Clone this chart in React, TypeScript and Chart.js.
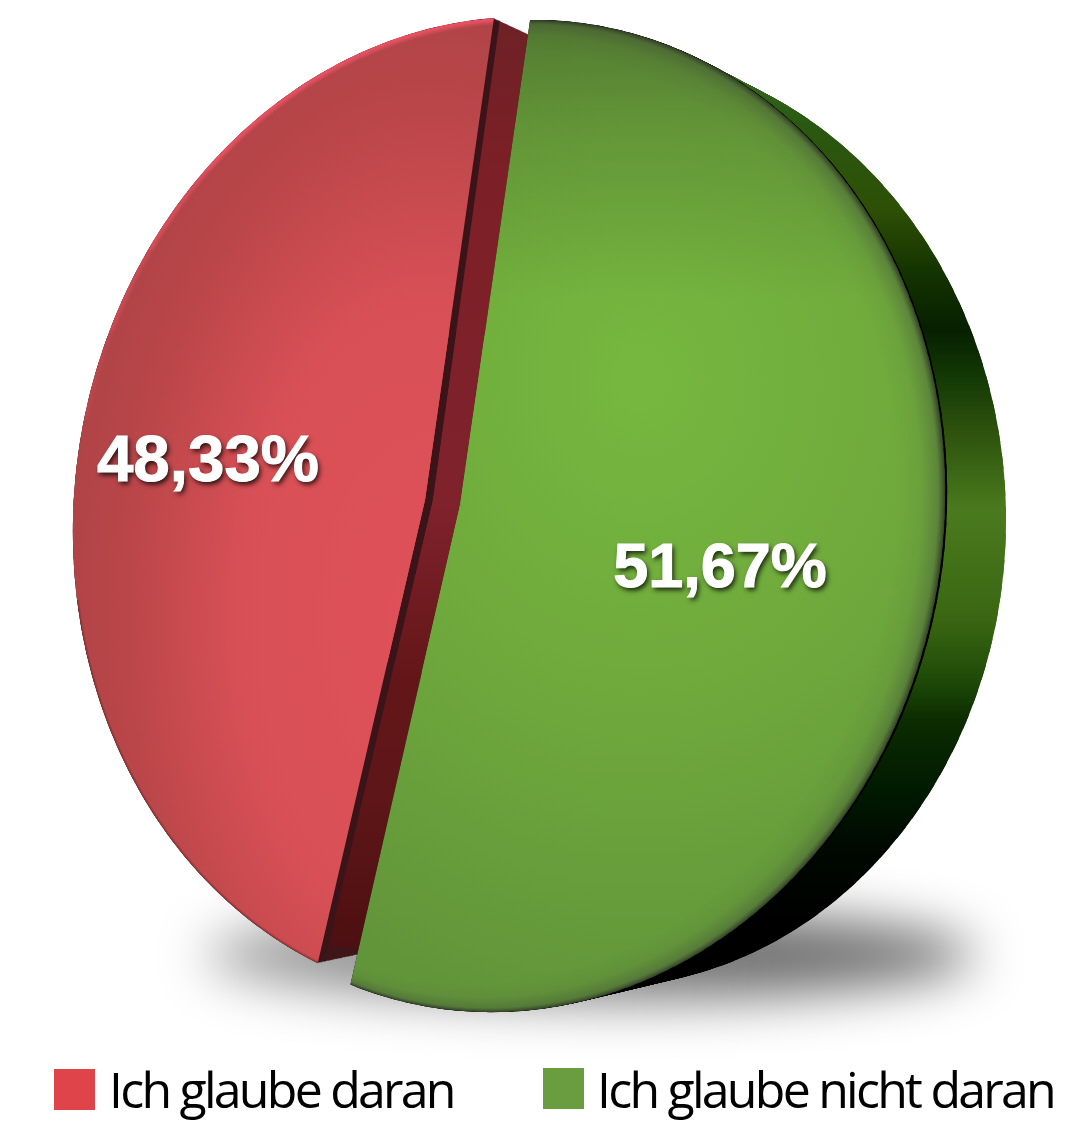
import React, { useEffect, useRef } from "react";
import { Chart, registerables } from "chart.js";

Chart.register(...registerables);

const categories = ["Ich glaube daran", "Ich glaube nicht daran"];
const shares = [48.33, 51.67];
const legendColors = ["#df444b", "#6a9c40"];

type Pt = { x: number; y: number };
type Oval = { cx: number; cy: number; ux: number; uy: number; vx: number; vy: number };
type Face = { apex: Pt; oval: Oval; from: Pt; to: Pt };

const redFront: Face = {
  apex: { x: 425, y: 500 },
  oval: { cx: 505, cy: 510, ux: 432, uy: -10, vx: -10, vy: 493 },
  from: { x: 317, y: 965 },
  to: { x: 494, y: 21 },
};
const redBack: Face = {
  apex: { x: 470, y: 505 },
  oval: { cx: 530, cy: 512, ux: 410, uy: -10, vx: -10, vy: 478 },
  from: { x: 362, y: 945 },
  to: { x: 529, y: 40 },
};
const greenFront: Face = {
  apex: { x: 460, y: 505 },
  oval: { cx: 512, cy: 516, ux: 433, uy: -11, vx: -11, vy: 496 },
  from: { x: 530, y: 22 },
  to: { x: 352, y: 980 },
};
const greenBack: Face = {
  apex: { x: 560, y: 520 },
  oval: { cx: 600, cy: 520, ux: 406, uy: 0, vx: 0, vy: 467 },
  from: { x: 620, y: 60 },
  to: { x: 460, y: 960 },
};

const greenDepthBands: [number, string][] = [
  [60, "#3a6e20"],
  [125, "#2a5812"],
  [210, "#2e4f06"],
  [270, "#143400"],
  [330, "#062000"],
  [380, "#143a06"],
  [425, "#2b4f0c"],
  [510, "#4a7a1e"],
  [620, "#3a6612"],
  [680, "#1e4a08"],
  [720, "#0c2c00"],
  [790, "#001a00"],
  [850, "#000800"],
  [920, "#000000"],
  [1020, "#000000"],
];

const redDepthBands: [number, string][] = [
  [20, "#6e2226"],
  [170, "#7c1f26"],
  [500, "#80222c"],
  [680, "#631618"],
  [800, "#5e1618"],
  [930, "#4f1012"],
  [946, "#4d1012"],
  [949, "#3e1518"],
  [980, "#3e1518"],
];

const angleOn = (o: Oval, p: Pt) => {
  const det = o.ux * o.vy - o.uy * o.vx;
  const dx = p.x - o.cx;
  const dy = p.y - o.cy;
  const a = (dx * o.vy - dy * o.vx) / det;
  const b = (dy * o.ux - dx * o.uy) / det;
  let t = Math.atan2(b, a);
  if (t < 0) t += Math.PI * 2;
  return t;
};

function rimPoint(face: Face, s: number): Pt {
  const o = face.oval;
  const a0 = angleOn(o, face.from);
  let a1 = angleOn(o, face.to);
  if (a1 < a0) a1 += Math.PI * 2;
  const t = a0 + (a1 - a0) * s;
  return {
    x: o.cx + Math.cos(t) * o.ux + Math.sin(t) * o.vx,
    y: o.cy + Math.cos(t) * o.uy + Math.sin(t) * o.vy,
  };
}

// Draws the chart's arc element as a fan of thin sectors, each placed on the tilted disc.
function stampArc(off: CanvasRenderingContext2D, arc: any, a: Face, b: Face, k: number, fine: number) {
  const R = arc.outerRadius;
  const start = arc.startAngle;
  const end = arc.endAngle;
  const circ = arc.circumference;
  const saved = arc.options;
  arc.options = {
    borderWidth: 0,
    borderColor: "transparent",
    borderAlign: "center",
    borderJoinStyle: "round",
    borderDash: [],
    borderDashOffset: 0,
    borderRadius: 0,
    spacing: 0,
    offset: 0,
    circular: true,
    selfJoin: false,
    backgroundColor: "#000",
  };
  const mix = (p: Pt, q: Pt): Pt => ({ x: p.x + (q.x - p.x) * k, y: p.y + (q.y - p.y) * k });
  const apex = mix(a.apex, b.apex);
  // second pass: a coarse, short fan that fills the hub where the thin sectors meet
  const passes: [number, number][] = [
    [fine, 1],
    [10, 0.35],
  ];
  passes.forEach(([pieces, reach]) => {
    const d = (end - start) / pieces;
    arc.outerRadius = R * reach;
    for (let i = 0; i < pieces; i++) {
      const s1 = i / pieces;
      const s2 = (i + 1) / pieces;
      const p1 = mix(rimPoint(a, s1), rimPoint(b, s1));
      const p2 = mix(rimPoint(a, s2), rimPoint(b, s2));
      const t1 = start + d * i;
      const t2 = start + d * (i + 1);
      const ax = R * Math.cos(t1);
      const ay = R * Math.sin(t1);
      const bx = R * Math.cos(t2);
      const by = R * Math.sin(t2);
      const det = ax * by - ay * bx;
      const qx = p1.x - apex.x;
      const qy = p1.y - apex.y;
      const rx = p2.x - apex.x;
      const ry = p2.y - apex.y;
      const m11 = (qx * by - rx * ay) / det;
      const m12 = (rx * ax - qx * bx) / det;
      const m21 = (qy * by - ry * ay) / det;
      const m22 = (ry * ax - qy * bx) / det;
      const last = i === pieces - 1;
      arc.startAngle = t1;
      arc.endAngle = last ? t2 : t2 + d * 0.6;
      arc.circumference = arc.endAngle - arc.startAngle;
      off.save();
      off.transform(m11, m21, m12, m22, apex.x, apex.y);
      off.translate(-arc.x, -arc.y);
      arc.draw(off);
      off.restore();
    }
  });
  arc.outerRadius = R;
  arc.startAngle = start;
  arc.endAngle = end;
  arc.circumference = circ;
  arc.options = saved;
}

function paintOval(
  off: CanvasRenderingContext2D,
  o: Oval,
  make: (g: CanvasRenderingContext2D) => CanvasGradient,
  clip?: [number, number, number, number],
) {
  off.save();
  if (clip) {
    off.beginPath();
    off.rect(clip[0], clip[1], clip[2], clip[3]);
    off.clip();
  }
  off.transform(o.ux, o.uy, o.vx, o.vy, o.cx, o.cy);
  off.fillStyle = make(off);
  off.fillRect(-5, -5, 10, 10);
  off.restore();
}

function levels(off: CanvasRenderingContext2D, stops: [number, string][]) {
  const y0 = stops[0][0];
  const y1 = stops[stops.length - 1][0];
  const g = off.createLinearGradient(0, y0, 0, y1);
  stops.forEach(([y, c]) => g.addColorStop((y - y0) / (y1 - y0), c));
  return g;
}

const radial = (stops: [number, string][], fx = 0, fy = 0, r0 = 0) => (g: CanvasRenderingContext2D) => {
  const grad = g.createRadialGradient(fx, fy, r0, 0, 0, 1);
  stops.forEach(([o, c]) => grad.addColorStop(o, c));
  return grad;
};

const piePainter = {
  id: "piePainter",
  beforeDatasetsDraw(chart: any) {
    const ctx: CanvasRenderingContext2D = chart.ctx;
    const [redArc, greenArc] = chart.getDatasetMeta(0).data;
    const W = chart.width;
    const H = chart.height;
    const sheet = document.createElement("canvas");
    sheet.width = W;
    sheet.height = H;
    const off = sheet.getContext("2d") as CanvasRenderingContext2D;

    const begin = () => {
      off.globalCompositeOperation = "source-over";
      off.clearRect(0, 0, W, H);
    };
    const base = (fill: any) => {
      off.globalCompositeOperation = "source-in";
      off.fillStyle = fill;
      off.fillRect(0, 0, W, H);
      off.globalCompositeOperation = "source-atop";
    };
    const commit = () => {
      off.globalCompositeOperation = "source-over";
      ctx.drawImage(sheet, 0, 0);
    };

    // ground shadow
    ctx.save();
    ctx.filter = "blur(26px)";
    const sh = ctx.createLinearGradient(200, 0, 760, 0);
    sh.addColorStop(0, "rgba(0,0,0,0.38)");
    sh.addColorStop(1, "rgba(0,0,0,0.56)");
    ctx.fillStyle = sh;
    ctx.beginPath();
    ctx.ellipse(590, 955, 385, 46, 0, 0, Math.PI * 2);
    ctx.fill();
    ctx.restore();

    // red depth
    begin();
    for (let i = 30; i >= 5; i--) stampArc(off, redArc, redFront, redBack, i / 30, 50);
    base(levels(off, redDepthBands));
    commit();
    begin();
    for (let i = 5; i >= 0; i--) stampArc(off, redArc, redFront, redBack, i / 30, 50);
    base("#3a1418");
    commit();

    // red face
    begin();
    stampArc(off, redArc, redFront, redFront, 0, 120);
    base("#d04c50");
    paintOval(
      off,
      { cx: 430, cy: 620, ux: 380, uy: 0, vx: 0, vy: 640 },
      radial([
        [0, "#e05058"],
        [0.5, "#d85056"],
        [0.8, "#ba4649"],
        [1, "#ad4346"],
      ]),
    );
    const rimSlots: [number, number, number][] = [
      [0, 170, 0.75],
      [170, 250, 0.55],
      [250, 330, 0.35],
      [330, 420, 0.15],
    ];
    rimSlots.forEach(([y0, y1, alpha]) => {
      paintOval(
        off,
        redFront.oval,
        radial([
          [0, "rgba(245,85,105,0)"],
          [0.986, "rgba(245,85,105,0)"],
          [0.996, `rgba(245,85,105,${alpha})`],
          [1, `rgba(245,85,105,${alpha})`],
        ]),
        [0, y0, W, y1 - y0],
      );
    });
    paintOval(
      off,
      redFront.oval,
      radial([
        [0, "rgba(110,40,40,0)"],
        [0.994, "rgba(110,40,40,0)"],
        [1, "rgba(110,40,40,0.7)"],
      ]),
      [0, 600, W, H],
    );
    commit();

    // green depth
    begin();
    for (let i = 60; i >= 2; i--) stampArc(off, greenArc, greenFront, greenBack, i / 60, 60);
    base(levels(off, greenDepthBands));
    commit();
    begin();
    for (let i = 2; i >= 0; i--) stampArc(off, greenArc, greenFront, greenBack, i / 60, 90);
    base("#000000");
    commit();

    // green face
    begin();
    stampArc(off, greenArc, greenFront, greenFront, 0, 120);
    base("#6aa23b");
    paintOval(
      off,
      { cx: 640, cy: 380, ux: 560, uy: 0, vx: 0, vy: 640 },
      radial([
        [0, "#76b83f"],
        [0.5, "#6fa93c"],
        [1, "#62953a"],
      ]),
    );
    off.fillStyle = levels(off, [
      [20, "rgba(45,60,35,0.42)"],
      [130, "rgba(45,60,35,0.2)"],
      [300, "rgba(45,60,35,0)"],
      [1100, "rgba(45,60,35,0)"],
    ]);
    off.fillRect(0, 0, W, H);
    paintOval(
      off,
      greenFront.oval,
      radial(
        [
          [0, "rgba(60,70,55,0)"],
          [0.5, "rgba(60,70,55,0.08)"],
          [0.85, "rgba(60,70,55,0.34)"],
          [1, "rgba(35,40,30,0.78)"],
        ],
        -0.05,
        0,
        0.94,
      ),
    );
    commit();

    return false;
  },
  afterDraw(chart: any) {
    const ctx: CanvasRenderingContext2D = chart.ctx;

    // value labels
    const labelSpots = [
      { x: 208, y: 481, size: 65.5 },
      { x: 720, y: 587, size: 63 },
    ];
    ctx.save();
    ctx.textAlign = "center";
    ctx.textBaseline = "alphabetic";
    ctx.fillStyle = "#ffffff";
    ctx.strokeStyle = "#ffffff";
    ctx.lineWidth = 1;
    shares.forEach((v, i) => {
      const text = v.toFixed(2).replace(".", ",") + "%";
      ctx.font = `bold ${labelSpots[i].size}px 'Liberation Sans'`;
      ctx.shadowColor = "rgba(0,0,0,0.8)";
      ctx.shadowBlur = 5;
      ctx.shadowOffsetX = 2;
      ctx.shadowOffsetY = 3;
      ctx.fillText(text, labelSpots[i].x, labelSpots[i].y);
      ctx.shadowColor = "transparent";
      ctx.strokeText(text, labelSpots[i].x, labelSpots[i].y);
    });
    ctx.restore();

    // legend
    const boxes = [
      { x: 54, y: 1069, text: 109 },
      { x: 543, y: 1068, text: 597 },
    ];
    ctx.save();
    ctx.font = "50px 'Open Sans'";
    (ctx as any).letterSpacing = "-2.75px";
    ctx.textAlign = "left";
    ctx.textBaseline = "alphabetic";
    categories.forEach((c, i) => {
      ctx.fillStyle = legendColors[i];
      ctx.fillRect(boxes[i].x, boxes[i].y, 41, 41);
      ctx.fillStyle = "#000000";
      ctx.fillText(c, boxes[i].text, 1108);
    });
    ctx.restore();
  },
};

export default function App() {
  const ref = useRef<HTMLCanvasElement>(null);
  useEffect(() => {
    const chart = new Chart(ref.current as HTMLCanvasElement, {
      type: "pie",
      data: {
        labels: categories,
        datasets: [{ data: shares, backgroundColor: legendColors, borderWidth: 0 }],
      },
      options: {
        animation: false,
        responsive: false,
        rotation: 183,
        plugins: { legend: { display: false }, tooltip: { enabled: false } },
      },
      plugins: [piePainter as any],
    });
    return () => chart.destroy();
  }, []);
  return (
    <div style={{ position: "absolute", left: 0, top: 0, width: 1084, height: 1141, background: "#fff" }}>
      <canvas ref={ref} width={1084} height={1141} style={{ display: "block" }} />
    </div>
  );
}
